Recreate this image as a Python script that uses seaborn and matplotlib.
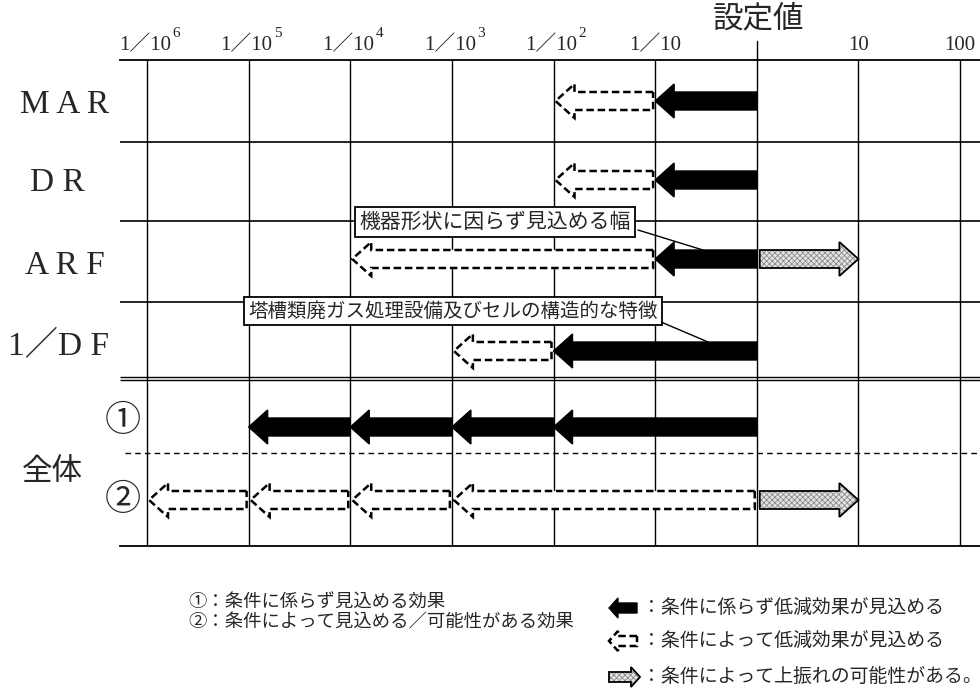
import numpy as np
import matplotlib
matplotlib.use("Agg")
import matplotlib.pyplot as plt
from matplotlib.patches import Polygon
import seaborn as sns

# rows of the chart, top to bottom
rows = ["MAR", "DR", "ARF", "1／DF", "①", "②"]
row_labels = ["M A R", "D R", "A R F", "1／D F", "①", "②"]

# solid arrows: reduction expected regardless of conditions (row, from, to)
solid_rows = ["MAR", "DR", "ARF", "1／DF", "①", "①", "①", "①"]
solid_from = [1, 1, 1, 1, 1, 1e-2, 1e-3, 1e-4]
solid_to = [1e-1, 1e-1, 1e-1, 1e-2, 1e-2, 1e-3, 1e-4, 1e-5]

# dashed arrows: reduction expected depending on conditions
dashed_rows = ["MAR", "DR", "ARF", "1／DF", "②", "②", "②", "②"]
dashed_from = [1e-1, 1e-1, 1e-1, 1e-2, 1, 1e-3, 1e-4, 1e-5]
dashed_to = [1e-2, 1e-2, 1e-4, 1e-3, 1e-3, 1e-4, 1e-5, 1e-6]

# hatched arrows: possible upward deviation
up_rows = ["ARF", "②"]
up_from = [1, 1]
up_to = [10, 10]

tick_vals = [1e-6, 1e-5, 1e-4, 1e-3, 1e-2, 1e-1, 1, 10, 100]
tick_base = ["1／10", "1／10", "1／10", "1／10", "1／10", "1／10", "", "10", "100"]
tick_sup = ["6", "5", "4", "3", "2", "", "", "", ""]

notes = ["①：条件に係らず見込める効果", "②：条件によって見込める／可能性がある効果"]
legend_texts = ["：条件に係らず低減効果が見込める",
                "：条件によって低減効果が見込める",
                "：条件によって上振れの可能性がある。"]

# ---- layout (pixels) ----
PX = 101.625            # pixels per decade
ROW_Y = {"MAR": 101, "DR": 180, "ARF": 259, "1／DF": 351, "①": 427, "②": 500}
LABEL_X = {"MAR": 20, "DR": 30, "ARF": 25, "1／DF": 8}
LABEL_Y = {"MAR": 105, "DR": 183, "ARF": 266, "1／DF": 347, "①": 421, "②": 500}

SERIF = ["Liberation Serif", "Noto Sans CJK JP"]
CJK = ["Noto Sans CJK JP", "DejaVu Sans"]


def px(p):
    return -6 + (p - 147) / PX


def draw_arrow(ax, x0, x1, y, style, sh=9, hh=17, hl=19, clip=True):
    d = np.sign(x1 - x0)
    xb = x1 - d * hl / PX
    pts = [(x0, y - sh), (xb, y - sh), (xb, y - hh), (x1, y),
           (xb, y + hh), (xb, y + sh), (x0, y + sh)]
    if style == "solid":
        ax.add_patch(Polygon(pts, closed=True, fc="black", ec="black", lw=1,
                             zorder=3, clip_on=clip))
    elif style == "dashed":
        ax.add_patch(Polygon(pts, closed=True, fc="white", ec="black", lw=1.8,
                             ls=(0, (3, 1.5)), joinstyle="miter", zorder=3, clip_on=clip))
    else:
        ax.add_patch(Polygon(pts, closed=True, fc="#e4e4e4", ec="#8a8a8a", lw=0,
                             hatch="xxxxxx", zorder=3, clip_on=clip))
        ax.add_patch(Polygon(pts, closed=True, fill=False, ec="black", lw=1.3,
                             zorder=3, clip_on=clip))


sns.set_theme(style="white")
plt.rcParams["font.family"] = CJK
plt.rcParams["hatch.linewidth"] = 0.6

fig = plt.figure(figsize=(9.8, 6.9), dpi=100)
ax = fig.add_axes([120 / 980, (690 - 546) / 690, 860 / 980, 486 / 690])
ax.set_xlim(px(120), px(980))
ax.set_ylim(546, 60)
ax.set_xticks([])
ax.set_yticks([])
sns.despine(ax=ax, left=True, right=True, top=False, bottom=False)
for s in ["top", "bottom"]:
    ax.spines[s].set_color("black")
    ax.spines[s].set_linewidth(1.3)

# grid
lx = np.log10(tick_vals)
ax.vlines(lx, 60, 546, color="black", lw=1, zorder=1)
ax.plot([0, 0], [60, 41], color="black", lw=1, clip_on=False)
xl = ax.get_xlim()
ax.hlines([142, 221, 302], xl[0], xl[1], color="black", lw=1.2, zorder=1)
ax.hlines([376.5, 380], xl[0], xl[1], color="black", lw=1, zorder=1)
ax.hlines(453, px(125), xl[1], color="black", lw=1, ls=(0, (4, 3)), zorder=1)

# axis labels on top
for v, b, s in zip(tick_vals, tick_base, tick_sup):
    x = np.log10(v)
    if s:
        xr = x + 24 / PX
        ax.text(xr, 50, b, ha="right", va="baseline", fontsize=15, family=SERIF, clip_on=False)
        ax.text(xr + 1 / PX, 37, s, ha="left", va="baseline", fontsize=11, family=SERIF, clip_on=False)
    elif b:
        ax.text(x, 50, b, ha="center", va="baseline", fontsize=15, family=SERIF, clip_on=False)
ax.text(0.02, 19, "設定値", ha="center", va="center", fontsize=22, clip_on=False)

# row labels
for r, lab in zip(rows, row_labels):
    if r in LABEL_X:
        ax.text(px(LABEL_X[r]), LABEL_Y[r], lab, ha="left", va="center", fontsize=24,
                family=SERIF, clip_on=False)
    else:
        ax.text(px(123), LABEL_Y[r], lab, ha="center", va="center", fontsize=26, clip_on=False)
ax.text(px(22), 472, "全体", ha="left", va="center", fontsize=22, clip_on=False)

# arrows
for r, a, b in zip(dashed_rows, dashed_from, dashed_to):
    draw_arrow(ax, np.log10(a) - 2 / PX, np.log10(b) + 2 / PX, ROW_Y[r], "dashed")
for r, a, b in zip(solid_rows, solid_from, solid_to):
    draw_arrow(ax, np.log10(a), np.log10(b), ROW_Y[r], "solid")
for r, a, b in zip(up_rows, up_from, up_to):
    draw_arrow(ax, np.log10(a) + 3 / PX, np.log10(b), ROW_Y[r], "up")

# callouts
box = dict(boxstyle="square,pad=0.2", fc="white", ec="black", lw=1.3)
ax.text(px(495), 222, "機器形状に因らず見込める幅", ha="center", va="center",
        fontsize=15, bbox=box, zorder=6)
ax.plot([px(638), px(703)], [230, ROW_Y["ARF"] - 9], color="black", lw=1, zorder=4)
ax.text(px(453), 311, "塔槽類廃ガス処理設備及びセルの構造的な特徴", ha="center", va="center",
        fontsize=14, bbox=box, zorder=6)
ax.plot([px(661), px(708)], [322, ROW_Y["1／DF"] - 9], color="black", lw=1, zorder=4)

# notes and legend
for i, t in enumerate(notes):
    ax.text(px(188), 603 + 19 * i, t, ha="left", va="center", fontsize=13.2, clip_on=False)
for i, (t, st) in enumerate(zip(legend_texts, ["solid", "dashed", "up"])):
    y = [608, 641, 677][i]
    if st == "up":
        draw_arrow(ax, px(609), px(640), y, st, sh=5, hh=10, hl=9, clip=False)
    else:
        draw_arrow(ax, px(637), px(609), y, st, sh=5, hh=10, hl=9, clip=False)
    ax.text(px(642), y, t, ha="left", va="center", fontsize=13.6, clip_on=False)

fig.savefig("out.png", dpi=100)
